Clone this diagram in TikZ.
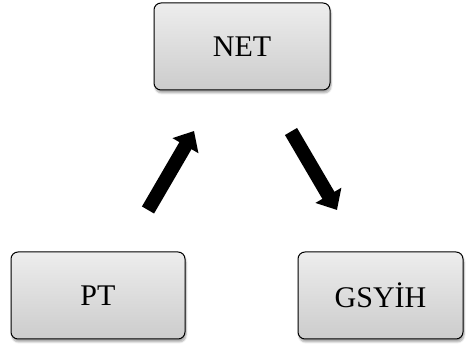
\documentclass[tikz,border=0pt]{standalone}
\usepackage{fontspec}
\setmainfont{Liberation Serif}
\usetikzlibrary{arrows.meta,shadows.blur}
\tikzset{
  box/.style={draw=black, line width=1pt, rounded corners=7pt,
    top color=gray!14, bottom color=gray!40,
    blur shadow={shadow xshift=1pt, shadow yshift=-3pt, shadow blur steps=6, shadow opacity=35},
    font=\fontsize{30}{32}\selectfont, inner sep=0pt, minimum height=87pt},
  fatarrow/.style={line width=14pt, -{Triangle[width=29pt,length=17pt]}}
}
\begin{document}
\begin{tikzpicture}[x=1pt,y=1pt]
  \useasboundingbox (0,0) rectangle (466,350);
  \node[box, minimum width=176pt] (net) at (242,303.5) {NET};
  \node[box, minimum width=174pt] (pt) at (98,54.5) {PT};
  \node[box, minimum width=165pt] (gsyih) at (380.5,54.5) {GSYİH};
  % ends of the two thick arrows between the boxes
  \coordinate (a1) at (148,140);
  \coordinate (a2) at (194,219);
  \coordinate (b1) at (291,218.5);
  \coordinate (b2) at (337,140);
  \draw[fatarrow] (a1) -- (a2);
  \draw[fatarrow] (b1) -- (b2);
\end{tikzpicture}
\end{document}
